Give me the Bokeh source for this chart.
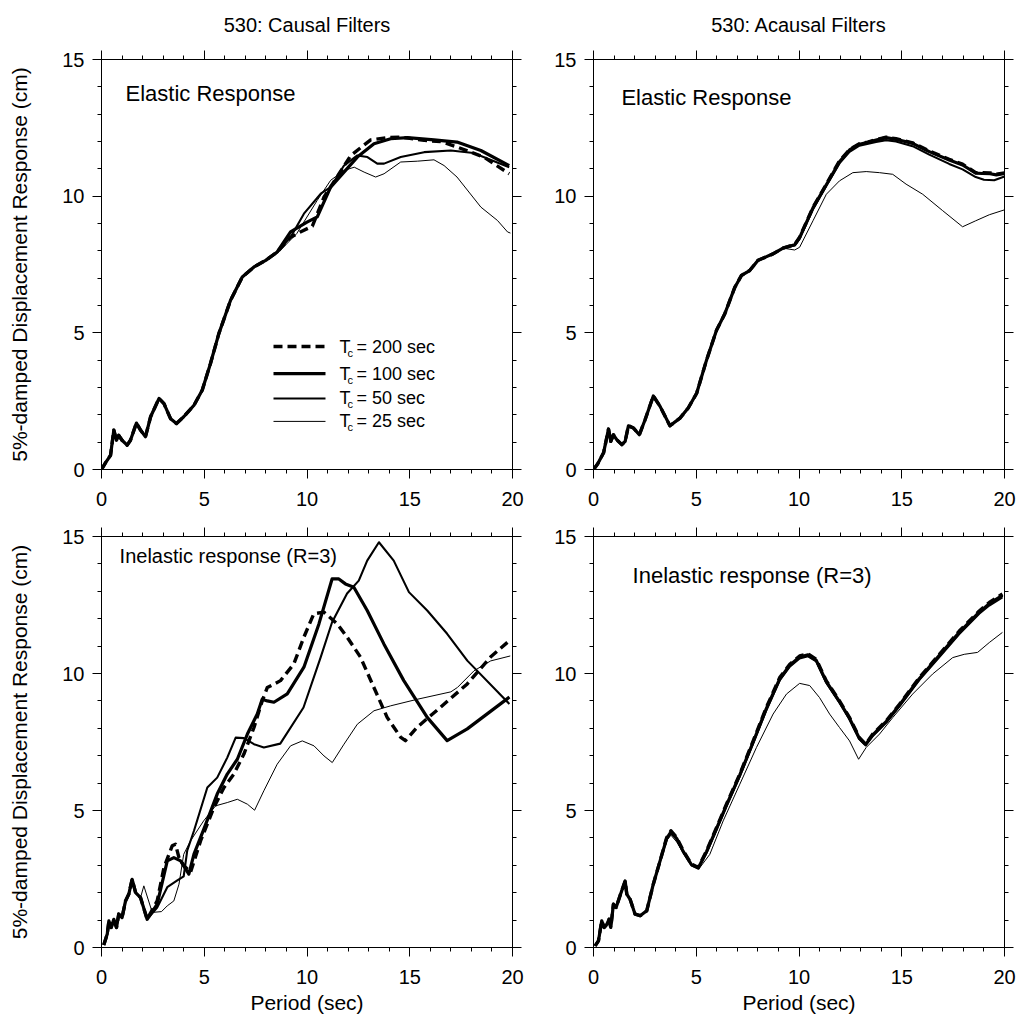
from bokeh.plotting import figure
from bokeh.models import Range1d, LinearAxis, SingleIntervalTicker, Label, CustomLabelingPolicy
from bokeh.layouts import column, row
from bokeh.embed import file_html
from bokeh.resources import INLINE

FONT = "Liberation Sans"

# ---------------- data: 5%-damped displacement response (cm) vs period (sec) ----------------
TC_VALUES = ["200", "100", "50", "25"]

# Causal filters, elastic response: shared low-period part, then one tail per filter
TL_X0 = [0.0, 0.2, 0.44, 0.6, 0.73, 0.84, 1.0, 1.25, 1.41, 1.7, 1.9, 2.14, 2.39, 2.8, 3.04, 3.36,
         3.65, 4.0, 4.5, 4.9, 5.3, 5.71, 6.28, 6.85, 7.42, 7.99]
TL_Y0 = [0.0, 0.25, 0.52, 1.44, 1.07, 1.25, 1.07, 0.89, 1.07, 1.7, 1.44, 1.2, 1.93, 2.6, 2.41, 1.86,
         1.68, 1.93, 2.35, 2.9, 3.87, 4.97, 6.19, 7.04, 7.41, 7.65]
TL_200_X = [8.55, 9.2, 9.7, 10.26, 10.83, 11.56, 12.13, 13.1, 14.0, 14.56, 15.7, 16.5, 17.3, 18.6, 19.84]
TL_200_Y = [7.96, 8.5, 8.7, 8.9, 9.97, 10.82, 11.49, 12.06, 12.15, 12.16, 12.04, 12.0, 11.8, 11.43, 10.82]
TL_100_X = [8.55, 9.2, 10.0, 10.5, 11.15, 11.8, 12.45, 13.26, 14.07, 14.89, 16.18, 17.3, 18.46, 19.84]
TL_100_Y = [7.96, 8.69, 9.05, 9.24, 10.33, 10.88, 11.43, 11.92, 12.1, 12.14, 12.06, 11.98, 11.67, 11.12]
TL_50_X = [8.55, 9.2, 9.85, 10.67, 11.15, 11.8, 12.45, 12.94, 13.42, 13.75, 14.56, 15.7, 17.0, 18.1, 19.84]
TL_50_Y = [7.96, 8.5, 9.36, 10.09, 10.33, 11.12, 11.49, 11.43, 11.19, 11.19, 11.43, 11.61, 11.67, 11.58, 11.06]
TL_25_X = [8.55, 9.5, 10.5, 11.15, 11.8, 12.3, 12.78, 13.34, 13.75, 14.56, 15.37, 16.18, 16.67, 17.3,
           18.46, 19.27, 19.76, 19.9]
TL_25_Y = [7.9, 8.63, 9.85, 10.58, 10.94, 11.06, 10.88, 10.7, 10.82, 11.25, 11.28, 11.33, 11.12, 10.7,
           9.6, 9.11, 8.69, 8.65]

# Acausal filters, elastic response
TR_X0 = [0.0, 0.2, 0.49, 0.73, 0.84, 0.97, 1.13, 1.38, 1.54, 1.7, 1.94, 2.23, 2.51, 2.91, 3.24, 3.72,
         4.21, 4.61, 5.02, 5.5, 5.99, 6.39, 6.88, 7.2, 7.6, 8.0, 8.74, 9.22]
TR_Y0 = [0.0, 0.2, 0.61, 1.48, 1.03, 1.27, 1.09, 0.91, 1.03, 1.6, 1.52, 1.27, 1.82, 2.69, 2.31, 1.6,
         1.88, 2.25, 2.79, 4.0, 5.1, 5.7, 6.67, 7.1, 7.28, 7.65, 7.89, 8.1]
TR_200_X = [9.79, 10.03, 10.68, 11.33, 11.97, 12.46, 12.94, 13.35, 13.75, 14.24, 14.72, 15.53, 16.34,
            17.31, 17.96, 18.6, 18.93, 19.3, 19.6, 20.0]
TR_200_Y = [8.23, 8.5, 9.59, 10.44, 11.29, 11.71, 11.92, 11.98, 12.07, 12.16, 12.1, 11.95, 11.65,
            11.35, 11.17, 10.86, 10.86, 10.85, 10.8, 10.85]
TR_100_X = [9.79, 10.03, 10.68, 11.33, 11.97, 12.46, 12.94, 13.35, 13.75, 14.24, 14.72, 15.53, 16.34,
            17.31, 17.96, 18.6, 18.93, 19.3, 19.6, 20.0]
TR_100_Y = [8.22, 8.48, 9.57, 10.42, 11.26, 11.69, 11.9, 11.97, 12.05, 12.14, 12.08, 11.93, 11.63,
            11.32, 11.14, 10.84, 10.83, 10.82, 10.78, 10.83]
TR_50_X = [9.79, 10.03, 10.68, 11.33, 11.97, 12.46, 12.94, 13.75, 14.24, 14.72, 15.53, 16.34, 17.31,
           17.96, 18.6, 19.0, 19.5, 20.0]
TR_50_Y = [8.2, 8.45, 9.52, 10.38, 11.2, 11.62, 11.85, 11.98, 12.05, 12.0, 11.83, 11.52, 11.18,
           10.98, 10.7, 10.6, 10.58, 10.72]
TR_25_X = [9.79, 10.03, 10.68, 11.33, 11.97, 12.62, 13.27, 13.92, 14.56, 15.21, 16.02, 16.99, 17.96,
           18.6, 19.26, 20.0]
TR_25_Y = [8.03, 8.13, 9.1, 10.07, 10.56, 10.86, 10.9, 10.86, 10.8, 10.44, 10.07, 9.47, 8.88, 9.1,
           9.32, 9.5]

# Causal filters, inelastic response (R=3)
BL_X0 = [0.11, 0.28, 0.36, 0.47, 0.6, 0.73, 0.84, 1.0, 1.17, 1.33, 1.49, 1.66, 1.9]
BL_Y0 = [0.09, 0.49, 0.97, 0.73, 1.03, 0.73, 1.22, 1.09, 1.7, 1.95, 2.49, 2.0, 1.82]
BL_200_X = [2.22, 2.71, 3.04, 3.44, 3.6, 3.77, 4.0, 4.33, 4.82, 5.47, 5.96, 6.44, 6.93, 7.42, 7.82,
            8.07, 8.39, 8.71, 9.36, 9.85, 10.33, 10.82, 11.47, 11.95, 12.6, 13.25, 13.9, 14.55, 14.79,
            15.36, 16.5, 17.8, 18.93, 19.85]
BL_200_Y = [1.03, 1.7, 2.92, 3.71, 3.77, 3.28, 3.0, 2.74, 3.89, 5.11, 5.84, 6.33, 7.06, 8.03, 9.0,
            9.49, 9.61, 9.74, 10.35, 11.33, 12.18, 12.24, 11.81, 11.33, 10.6, 9.5, 8.4, 7.68, 7.55,
            8.04, 8.77, 9.62, 10.6, 11.2]
BL_100_X = [2.22, 2.71, 3.2, 3.52, 3.85, 4.25, 4.5, 4.98, 5.63, 6.12, 6.61, 7.1, 7.58, 7.82, 8.07,
            8.39, 9.04, 9.85, 10.58, 11.22, 11.55, 11.87, 12.28, 12.93, 13.74, 14.71, 15.85, 16.82,
            17.8, 19.85]
BL_100_Y = [1.03, 1.58, 3.16, 3.28, 3.16, 2.68, 3.41, 4.32, 5.6, 6.33, 6.87, 7.79, 8.52, 9.06, 9.0,
            8.95, 9.26, 10.23, 11.81, 13.45, 13.45, 13.27, 13.15, 12.3, 11.08, 9.74, 8.4, 7.55, 7.98,
            9.14]
BL_50_X = [2.22, 2.71, 3.2, 3.69, 4.0, 4.17, 4.5, 5.15, 5.63, 6.12, 6.53, 6.93, 7.42, 7.9, 8.7, 9.83,
           10.66, 11.22, 11.95, 12.52, 12.93, 13.5, 14.22, 14.96, 15.85, 16.82, 17.8, 19.85]
BL_50_Y = [1.03, 1.46, 2.2, 2.45, 2.6, 3.53, 4.26, 5.84, 6.2, 6.93, 7.66, 7.64, 7.42, 7.3, 7.44, 8.76,
           10.58, 11.87, 12.92, 13.39, 14.12, 14.79, 14.12, 12.97, 12.3, 11.45, 10.47, 8.89]
BL_25_X = [2.06, 2.47, 2.92, 3.2, 3.52, 3.77, 4.0, 4.33, 4.97, 5.55, 6.12, 6.61, 7.1, 7.45, 7.9, 8.55,
           9.2, 9.77, 10.34, 10.83, 11.23, 11.8, 12.45, 13.26, 14.07, 15.37, 17.0, 17.32, 18.13, 18.94,
           19.89]
BL_25_Y = [2.25, 1.28, 1.31, 1.52, 1.7, 2.31, 3.4, 3.89, 4.62, 5.17, 5.29, 5.41, 5.23, 5.01, 5.72, 6.69,
           7.36, 7.54, 7.36, 6.99, 6.75, 7.42, 8.15, 8.64, 8.82, 9.06, 9.33, 9.49, 10.1, 10.46, 10.64]

# Acausal filters, inelastic response (R=3)
BR_X0 = [0.08, 0.24, 0.4, 0.52, 0.65, 0.76, 0.84, 0.97, 1.1, 1.29, 1.54, 1.62, 1.78, 2.02, 2.27, 2.59,
         2.91, 3.24]
BR_Y0 = [0.06, 0.24, 0.97, 0.73, 0.85, 1.03, 0.73, 1.58, 1.46, 1.89, 2.43, 1.95, 1.76, 1.22, 1.16, 1.34,
         2.31, 3.16]
BR_200_X = [3.56, 3.77, 4.05, 4.37, 4.77, 5.1, 5.5, 5.99, 6.47, 7.12, 7.77, 8.41, 9.06, 9.55, 10.03,
            10.44, 10.84, 11.33, 11.97, 12.46, 12.94, 13.24, 13.59, 14.24, 14.89, 15.86, 16.83, 17.8,
            18.77, 19.26, 19.9]
BR_200_Y = [4.01, 4.26, 4.01, 3.53, 3.04, 2.92, 3.53, 4.38, 5.23, 6.33, 7.54, 8.76, 9.85, 10.34, 10.64,
            10.72, 10.52, 9.73, 9.0, 8.39, 7.66, 7.42, 7.79, 8.27, 8.88, 9.85, 10.7, 11.55, 12.28, 12.59,
            12.9]
BR_100_X = [3.56, 3.77, 4.05, 4.37, 4.77, 5.1, 5.5, 5.99, 6.47, 7.12, 7.77, 8.41, 9.06, 9.55, 10.03,
            10.44, 10.84, 11.33, 11.97, 12.46, 12.94, 13.24, 13.59, 14.24, 14.89, 15.86, 16.83, 17.8,
            18.77, 19.26, 19.9]
BR_100_Y = [3.98, 4.22, 3.98, 3.5, 3.02, 2.9, 3.5, 4.35, 5.2, 6.3, 7.5, 8.72, 9.8, 10.3, 10.6,
            10.68, 10.48, 9.7, 8.97, 8.36, 7.63, 7.4, 7.76, 8.24, 8.85, 9.82, 10.66, 11.5, 12.24, 12.55,
            12.85]
BR_50_X = [3.56, 3.77, 4.05, 4.37, 4.77, 5.1, 5.5, 5.99, 6.47, 7.12, 7.77, 8.41, 9.06, 9.55, 10.03,
           10.44, 10.84, 11.33, 11.97, 12.46, 12.94, 13.24, 13.59, 14.24, 14.89, 15.86, 16.83, 17.8,
           18.77, 19.26, 19.9]
BR_50_Y = [3.95, 4.18, 3.95, 3.48, 3.0, 2.9, 3.45, 4.3, 5.15, 6.25, 7.45, 8.66, 9.75, 10.25, 10.55,
           10.63, 10.44, 9.66, 8.94, 8.33, 7.6, 7.4, 7.72, 8.2, 8.8, 9.77, 10.6, 11.44, 12.18, 12.48,
           12.78]
BR_25_X = [3.56, 3.77, 4.05, 4.37, 4.77, 5.18, 5.66, 6.31, 7.12, 7.93, 8.74, 9.39, 10.03, 10.52, 11.0,
           11.49, 11.97, 12.46, 12.9, 13.27, 13.92, 14.56, 15.53, 16.5, 17.48, 18.04, 18.69, 19.26, 19.9]
BR_25_Y = [3.9, 4.1, 3.85, 3.45, 3.0, 2.92, 3.4, 4.62, 5.96, 7.3, 8.52, 9.25, 9.64, 9.56, 9.12, 8.52,
           8.03, 7.54, 6.87, 7.3, 7.79, 8.39, 9.25, 9.98, 10.58, 10.7, 10.77, 11.13, 11.5]

X_RANGE = (0, 20)
Y_RANGE = (0, 15)
TICK_INTERVAL = 5

# line styles per filter (200, 100, 50, 25)
STYLES = [dict(line_width=3.4, line_dash="9 5"),
          dict(line_width=3.2, line_dash="solid"),
          dict(line_width=2.1, line_dash="solid"),
          dict(line_width=1.0, line_dash="solid")]

NO_LABELS = CustomLabelingPolicy(code="return new Set()")


def style_axis(ax, show_labels, standoff=8):
    ax.ticker = SingleIntervalTicker(interval=TICK_INTERVAL, num_minor_ticks=5)
    ax.major_tick_in = 0
    ax.major_tick_out = 9
    ax.minor_tick_in = 0
    ax.minor_tick_out = 4
    ax.axis_line_color = "black"
    ax.major_tick_line_color = "black"
    ax.minor_tick_line_color = "black"
    ax.major_label_text_font = FONT
    ax.major_label_text_color = "black"
    ax.axis_label_text_font = FONT
    ax.axis_label_text_font_style = "normal"
    ax.axis_label_text_font_size = "21px"
    ax.axis_label_text_color = "black"
    if show_labels:
        ax.major_label_text_font_size = "20px"
        ax.major_label_standoff = standoff
    else:
        ax.major_label_text_font_size = "0px"
        ax.major_label_standoff = 0
        ax.major_label_policy = NO_LABELS


def make_panel(series, title, note, note_xy, note_size, left, right, top, bottom, fh,
               ylabel=None, xlabel=None):
    p = figure(frame_width=411, frame_height=fh,
               x_range=Range1d(*X_RANGE), y_range=Range1d(*Y_RANGE),
               output_backend="svg", toolbar_location=None,
               min_border_left=left, min_border_right=right,
               min_border_top=top, min_border_bottom=bottom,
               title=title)
    if title:
        p.title.align = "center"
        p.title.vertical_align = "top"
        p.title.text_font = FONT
        p.title.text_font_style = "normal"
        p.title.text_font_size = "20px"
        p.title.text_color = "black"
        p.title.standoff = 25
    p.xgrid.visible = False
    p.ygrid.visible = False
    p.outline_line_color = "black"
    p.outline_line_width = 1
    p.background_fill_color = "white"
    p.border_fill_color = "white"

    xb = p.below[0]
    yl = p.left[0]
    style_axis(xb, True, standoff=13)
    style_axis(yl, True, standoff=8)
    top_ax = LinearAxis()
    right_ax = LinearAxis()
    style_axis(top_ax, False)
    style_axis(right_ax, False)
    p.add_layout(top_ax, "above")
    p.add_layout(right_ax, "right")
    if ylabel:
        yl.axis_label = ylabel
        yl.axis_label_standoff = 28
    if xlabel:
        xb.axis_label = xlabel
        xb.axis_label_standoff = 4

    # draw thin first so thicker lines lie on top
    for (xs, ys), st in reversed(list(zip(series, STYLES))):
        p.line(xs, ys, line_color="black", line_join="round", line_cap="butt", **st)

    p.add_layout(Label(x=note_xy[0], y=note_xy[1], text=note, text_font=FONT,
                       text_font_size=note_size, text_baseline="middle", text_align="left",
                       text_color="black"))
    return p


tl = make_panel([(TL_X0 + TL_200_X, TL_Y0 + TL_200_Y), (TL_X0 + TL_100_X, TL_Y0 + TL_100_Y),
                 (TL_X0 + TL_50_X, TL_Y0 + TL_50_Y), (TL_X0 + TL_25_X, TL_Y0 + TL_25_Y)],
                "530: Causal Filters", "Elastic Response", (1.17, 13.76), "22px",
                101, 20, 59, 45, 410, ylabel="5%-damped Displacement Response (cm)")
tr = make_panel([(TR_X0 + TR_200_X, TR_Y0 + TR_200_Y), (TR_X0 + TR_100_X, TR_Y0 + TR_100_Y),
                 (TR_X0 + TR_50_X, TR_Y0 + TR_50_Y), (TR_X0 + TR_25_X, TR_Y0 + TR_25_Y)],
                "530: Acausal Filters", "Elastic Response", (1.36, 13.6), "22px",
                61, 16, 59, 45, 410)
bl = make_panel([(BL_X0 + BL_200_X, BL_Y0 + BL_200_Y), (BL_X0 + BL_100_X, BL_Y0 + BL_100_Y),
                 (BL_X0 + BL_50_X, BL_Y0 + BL_50_Y), (BL_X0 + BL_25_X, BL_Y0 + BL_25_Y)],
                None, "Inelastic response (R=3)", (0.88, 14.3), "20px",
                101, 20, 22, 73, 411, ylabel="5%-damped Displacement Response (cm)",
                xlabel="Period (sec)")
br = make_panel([(BR_X0 + BR_200_X, BR_Y0 + BR_200_Y), (BR_X0 + BR_100_X, BR_Y0 + BR_100_Y),
                 (BR_X0 + BR_50_X, BR_Y0 + BR_50_Y), (BR_X0 + BR_25_X, BR_Y0 + BR_25_Y)],
                None, "Inelastic response (R=3)", (1.9, 13.58), "22px",
                61, 16, 22, 73, 411, xlabel="Period (sec)")

# legend (top-left panel), with subscript c
LEG_X = (8.37, 10.9)
LEG_TEXT_X = 11.58
LEG_Y = [4.5, 3.51, 2.6, 1.76]
for tc, ly, st in zip(TC_VALUES, LEG_Y, STYLES):
    tl.line(list(LEG_X), [ly, ly], line_color="black", line_cap="butt", **st)
    tl.add_layout(Label(x=LEG_TEXT_X, y=ly, text="T", text_font=FONT, text_font_size="18px",
                        text_baseline="middle", text_color="black"))
    tl.add_layout(Label(x=LEG_TEXT_X, y=ly, x_offset=8, y_offset=-6, text="c", text_font=FONT,
                        text_font_size="11px", text_baseline="middle", text_color="black"))
    tl.add_layout(Label(x=LEG_TEXT_X, y=ly, x_offset=17, text="= " + tc + " sec", text_font=FONT,
                        text_font_size="18px", text_baseline="middle", text_color="black"))

layout = column(row(tl, tr), row(bl, br))
open("out.html", "w").write(file_html(layout, INLINE))
